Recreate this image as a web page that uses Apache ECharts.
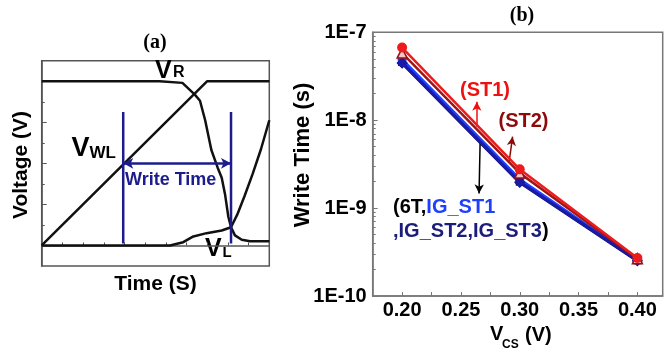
<!DOCTYPE html>
<html><head><meta charset="utf-8">
<script src="https://cdn.jsdelivr.net/npm/echarts@6/dist/echarts.min.js"></script>
<style>html,body{margin:0;padding:0;background:#fff}#c{width:664px;height:354px}</style>
</head><body><div id="c"></div>
<script>
// ---------- Panel (a): schematic waveforms [time unit, voltage unit] ----------
const vwlCurve = [[0,0],[8,8],[11,8]];
const vrCurve = [[0,8],[5.7,8],[6.8,7.92],[7.4,7.35],[7.65,7.05],[7.9,6.1],[8.2,4.65],[8.5,3.8],[8.7,3.3],[8.86,2.5],[9.02,1.4],[9.15,0.89],[9.34,0.49],[9.67,0.28],[10.07,0.21],[11,0.2]];
const vlCurve = [[0,0],[6.2,0],[6.84,0.16],[7.33,0.44],[7.97,0.6],[8.7,0.73],[9.15,0.89],[9.45,1.5],[9.8,2.4],[10.2,3.5],[10.6,4.7],[11,6.1]];
const markerStart = [[3.94,6.5],[3.94,0.1]];
const markerEnd = [[9.15,6.5],[9.15,0.1]];
const writeArrow = [[3.94,4],[9.15,4]];
const aYMinorTicks = [1,3,5,7];
const aYMajorTicks = [0,2,4,6,8];

// ---------- Panel (b): write time vs VCS ----------
const vcs = [0.20, 0.30, 0.40];
const t6T    = [4.6e-8, 2.0e-9, 2.55e-10];
const tIGST1 = [4.9e-8, 2.12e-9, 2.6e-10];
const tIGST2 = [4.5e-8, 1.98e-9, 2.55e-10];
const tIGST3 = [4.45e-8, 1.95e-9, 2.5e-10];
const tST1   = [6.7e-8, 2.76e-9, 2.7e-10];
const tST2   = [5.8e-8, 2.5e-9, 2.65e-10];
const xTickLabels = [0.20, 0.25, 0.30, 0.35, 0.40];
const yMinorTicks = [2e-10,3e-10,4e-10,5e-10,6e-10,7e-10,8e-10,9e-10,
                     2e-9,3e-9,4e-9,5e-9,6e-9,7e-9,8e-9,9e-9,
                     2e-8,3e-8,4e-8,5e-8,6e-8,7e-8,8e-8,9e-8];
const arrowST1 = [[0.2635,8.4e-9],[0.2635,1.62e-8]];
const arrowST2 = [[0.291,3.37e-9],[0.2939,6.5e-9]];
const arrowIG  = [[0.2663,5.46e-9],[0.2654,1.47e-9]];

const SANS = 'Liberation Sans, Arial, sans-serif';
const pair = (ys) => vcs.map((x, i) => [x, ys[i]]);
const navy = '#1c1c8c';

const chart = echarts.init(document.getElementById('c'), null, {renderer: 'canvas'});

function lineSeries(data, color, width, xi, yi, extra) {
  return Object.assign({
    type: 'line', data: data, xAxisIndex: xi, yAxisIndex: yi,
    showSymbol: false, symbol: 'none', silent: true,
    lineStyle: {color: color, width: width}, z: 3
  }, extra || {});
}

function ptSeries(name, ys, color, width, symbol, size, itemStyle, z) {
  return {
    type: 'line', name: name, data: pair(ys), xAxisIndex: 1, yAxisIndex: 2,
    symbol: symbol, symbolSize: size, showSymbol: true, silent: true,
    lineStyle: {color: color, width: width},
    itemStyle: Object.assign({color: color}, itemStyle || {}), z: z
  };
}

function arrowItem(pts, color) {
  return [{coord: pts[0], lineStyle: {color: color, width: 1.5, type: 'solid'}},
          {coord: pts[1]}];
}

const option = {
  animation: false,
  backgroundColor: '#fff',
  grid: [
    {left: 41.7, top: 60.7, width: 227.6, height: 205.3, show: true, borderColor: '#555', borderWidth: 1.5, containLabel: false},
    {left: 372.7, top: 32.3, width: 290, height: 263.7, show: true, borderColor: '#777', borderWidth: 1.5, containLabel: false}
  ],
  xAxis: [
    {gridIndex: 0, type: 'value', min: 0, max: 11, interval: 1,
     axisLine: {show: true, lineStyle: {color: '#555', width: 1.5}},
     axisTick: {show: true, inside: true, length: 3, lineStyle: {color: '#555', width: 1}},
     axisLabel: {show: false}, splitLine: {show: false}},
    {gridIndex: 1, type: 'value', min: 0.175, max: 0.4215, interval: 0.025,
     axisLine: {show: true, onZero: false, lineStyle: {color: '#777', width: 1.5}},
     axisTick: {show: true, inside: true, length: 4, lineStyle: {color: '#777', width: 1}},
     axisLabel: {show: true, customValues: xTickLabels, formatter: v => Number(v).toFixed(2),
                 fontFamily: SANS, fontWeight: 'bold', fontSize: 20, color: '#000', margin: 4},
     splitLine: {show: false}}
  ],
  yAxis: [
    {gridIndex: 0, type: 'value', min: -1, max: 9, position: 'left',
     axisLine: {show: true, onZero: false, lineStyle: {color: '#555', width: 1.5}},
     axisTick: {show: true, inside: true, length: 3, customValues: aYMinorTicks, lineStyle: {color: '#555', width: 1}},
     axisLabel: {show: false}, splitLine: {show: false}},
    {gridIndex: 0, type: 'value', min: -1, max: 9, position: 'left', offset: 0,
     axisLine: {show: false},
     axisTick: {show: true, inside: true, length: 5, customValues: aYMajorTicks, lineStyle: {color: '#555', width: 1}},
     axisLabel: {show: false}, splitLine: {show: false}},
    {gridIndex: 1, type: 'log', logBase: 10, min: 1e-10, max: 1e-7, position: 'left',
     axisLine: {show: true, onZero: false, lineStyle: {color: '#777', width: 1.5}},
     axisTick: {show: true, inside: true, length: 5, lineStyle: {color: '#777', width: 1}},
     axisLabel: {show: true, formatter: v => '1E' + Math.round(Math.log10(v)),
                 fontFamily: SANS, fontWeight: 'bold', fontSize: 20, color: '#000', margin: 6},
     splitLine: {show: false}},
    {gridIndex: 1, type: 'log', logBase: 10, min: 1e-10, max: 1e-7, position: 'left', offset: 0,
     axisLine: {show: false},
     axisTick: {show: true, inside: true, length: 3, customValues: yMinorTicks, lineStyle: {color: '#777', width: 1}},
     axisLabel: {show: false}, splitLine: {show: false}}
  ],
  series: [
    lineSeries(vwlCurve, '#111', 2.5, 0, 0),
    lineSeries(vrCurve, '#111', 2.5, 0, 0),
    lineSeries(vlCurve, '#111', 2.5, 0, 0),
    lineSeries(markerStart, navy, 2.5, 0, 0, {z: 4}),
    lineSeries(markerEnd, navy, 2.5, 0, 0, {z: 4, markLine: {
      silent: true, symbol: ['arrow', 'arrow'], symbolSize: [8, 10], label: {show: false},
      data: [[{coord: writeArrow[0], lineStyle: {color: navy, width: 2.5, type: 'solid'}}, {coord: writeArrow[1]}]]
    }}),
    ptSeries('6T', t6T, '#000', 3, 'rect', 8, null, 3),
    ptSeries('IG_ST1', tIGST1, '#2040ff', 3, 'circle', 9, null, 4),
    ptSeries('IG_ST3', tIGST3, '#14147a', 3, 'diamond', 11, null, 4),
    ptSeries('IG_ST2', tIGST2, '#1a1aa8', 3, 'diamond', 11, null, 5),
    ptSeries('ST2', tST2, '#a01515', 2.5, 'triangle', 10, {color: '#f3c4c4', borderColor: '#9a1010', borderWidth: 1.5}, 6),
    Object.assign(ptSeries('ST1', tST1, '#ec1c1c', 2.5, 'circle', 10, null, 7), {
      markLine: {silent: true, symbol: ['none', 'arrow'], symbolSize: [7, 9], label: {show: false},
        data: [arrowItem(arrowST1, '#ee1111'), arrowItem(arrowST2, '#8b0a0a'), arrowItem(arrowIG, '#000')]}
    })
  ],
  graphic: [
    // titles
    {type: 'text', style: {text: '(a)', x: 155, y: 43, align: 'center', verticalAlign: 'middle', font: 'bold 20px "Liberation Serif", "Times New Roman", serif', fill: '#000'}},
    {type: 'text', style: {text: '(b)', x: 522, y: 16, align: 'center', verticalAlign: 'middle', font: 'bold 20px "Liberation Serif", "Times New Roman", serif', fill: '#000'}},
    // axis names
    {type: 'text', rotation: Math.PI / 2, x: 21.7, y: 165, style: {text: 'Voltage (V)', x: 0, y: 0, align: 'center', verticalAlign: 'middle', font: 'bold 21px ' + SANS, fill: '#000'}},
    {type: 'text', style: {text: 'Time (S)', x: 155.5, y: 284, align: 'center', verticalAlign: 'middle', font: 'bold 21px ' + SANS, fill: '#000'}},
    {type: 'text', rotation: Math.PI / 2, x: 303, y: 155, style: {text: 'Write Time (s)', x: 0, y: 0, align: 'center', verticalAlign: 'middle', font: 'bold 22px ' + SANS, fill: '#000'}},
    {type: 'text', style: {text: 'V', x: 490, y: 334.5, align: 'left', verticalAlign: 'middle', font: 'bold 20px ' + SANS, fill: '#000'}},
    {type: 'text', style: {text: 'CS', x: 502, y: 345, align: 'left', verticalAlign: 'middle', font: 'bold 12px ' + SANS, fill: '#000'}},
    {type: 'text', style: {text: '(V)', x: 525, y: 335, align: 'left', verticalAlign: 'middle', font: 'bold 20px ' + SANS, fill: '#000'}},
    // panel (a) labels
    {type: 'text', style: {text: 'V', x: 155, y: 71, align: 'left', verticalAlign: 'middle', font: 'bold 25px ' + SANS, fill: '#000'}},
    {type: 'text', style: {text: 'R', x: 173, y: 72.5, align: 'left', verticalAlign: 'middle', font: 'bold 16px ' + SANS, fill: '#000'}},
    {type: 'text', style: {text: 'V', x: 71.5, y: 148.5, align: 'left', verticalAlign: 'middle', font: 'bold 27px ' + SANS, fill: '#000'}},
    {type: 'text', style: {text: 'WL', x: 89.5, y: 153, align: 'left', verticalAlign: 'middle', font: 'bold 17px ' + SANS, fill: '#000'}},
    {type: 'text', style: {text: 'V', x: 205, y: 249.5, align: 'left', verticalAlign: 'middle', font: 'bold 25px ' + SANS, fill: '#000'}},
    {type: 'text', style: {text: 'L', x: 222.5, y: 252.5, align: 'left', verticalAlign: 'middle', font: 'bold 15px ' + SANS, fill: '#000'}},
    {type: 'text', style: {text: 'Write Time', x: 125, y: 180, align: 'left', verticalAlign: 'middle', font: 'bold 18px ' + SANS, fill: navy}},
    // panel (b) annotations
    {type: 'text', style: {text: '(ST1)', x: 485, y: 90, align: 'center', verticalAlign: 'middle', font: 'bold 20px ' + SANS, fill: '#ee1111'}},
    {type: 'text', style: {text: '(ST2)', x: 523.5, y: 121, align: 'center', verticalAlign: 'middle', font: 'bold 20px ' + SANS, fill: '#8b0a0a'}},
    {type: 'text', style: {text: '{k|(6T,}{b|IG_ST1}', x: 393, y: 207, align: 'left', verticalAlign: 'middle',
      rich: {k: {font: 'bold 20px ' + SANS, fill: '#000'}, b: {font: 'bold 20px ' + SANS, fill: '#1f3fff'}}}},
    {type: 'text', style: {text: '{n|,IG_ST2,IG_ST3}{k|)}', x: 393, y: 231, align: 'left', verticalAlign: 'middle',
      rich: {k: {font: 'bold 20px ' + SANS, fill: '#000'}, n: {font: 'bold 20px ' + SANS, fill: '#1c1c7a'}}}}
  ]
};
chart.setOption(option);
</script>
</body></html>
